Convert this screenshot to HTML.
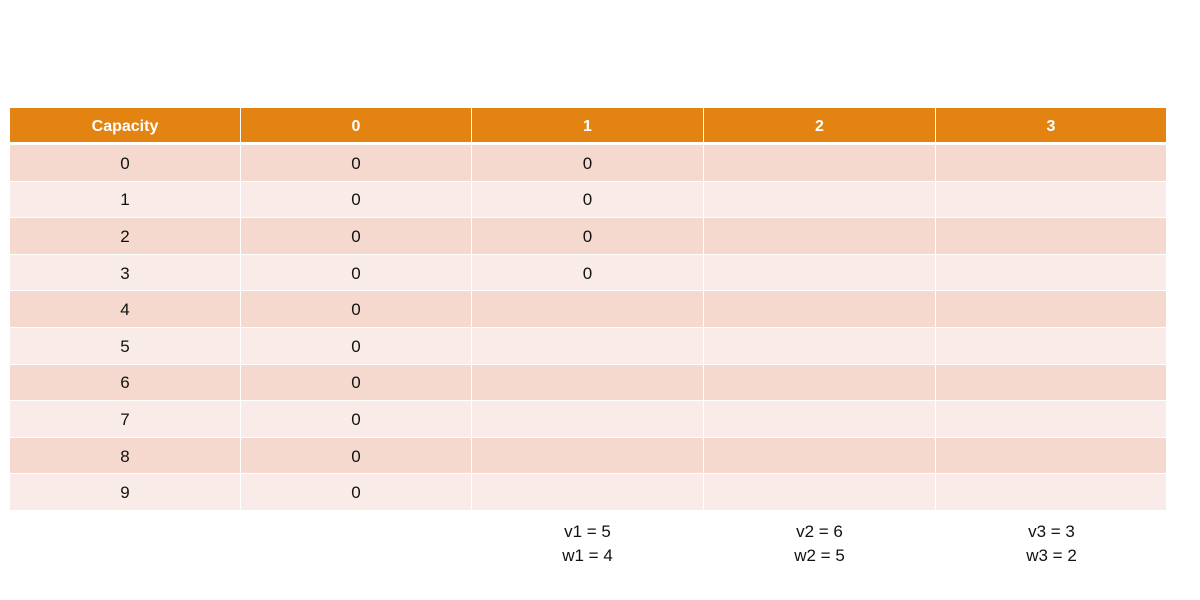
<!DOCTYPE html>
<html><head><style>
body{margin:0;width:1200px;height:600px;background:#fff;position:relative;overflow:hidden;font-family:"Liberation Sans",sans-serif}
.c{position:absolute;display:flex;align-items:center;justify-content:center;font-size:17px;color:#111;box-sizing:border-box;padding-top:2px}
.h{background:#E38312;color:#fff;font-weight:bold;font-size:16px;padding-top:3px}
.a{background:#F5D9CE}.b{background:#F9ECE8}
.t{position:absolute;width:231px;text-align:center;font-size:17px;line-height:24px;color:#111}
</style></head><body>
<div id="g"></div>
<div class="t" style="left:472px;top:520px">v1 = 5<br>w1 = 4</div>
<div class="t" style="left:704px;top:520px">v2 = 6<br>w2 = 5</div>
<div class="t" style="left:936px;top:520px">v3 = 3<br>w3 = 2</div>
<script>
var xs=[10,241,472,704,936],w=[230,230,231,231,230],g=document.getElementById('g'),s='';
var hd=['Capacity','0','1','2','3'];
for(var j=0;j<5;j++)s+='<div class="c h" style="left:'+xs[j]+'px;top:108px;width:'+w[j]+'px;height:34px">'+hd[j]+'</div>';
for(var i=0;i<10;i++){var y=145+i*36.6;
for(var j=0;j<5;j++){var t='';if(j==0)t=i;else if(j==1)t='0';else if(j==2&&i<4)t='0';
s+='<div class="c '+(i%2?'b':'a')+'" style="left:'+xs[j]+'px;top:'+y+'px;width:'+w[j]+'px;height:35.6px">'+t+'</div>';}}
g.innerHTML=s;
</script>
</body></html>
